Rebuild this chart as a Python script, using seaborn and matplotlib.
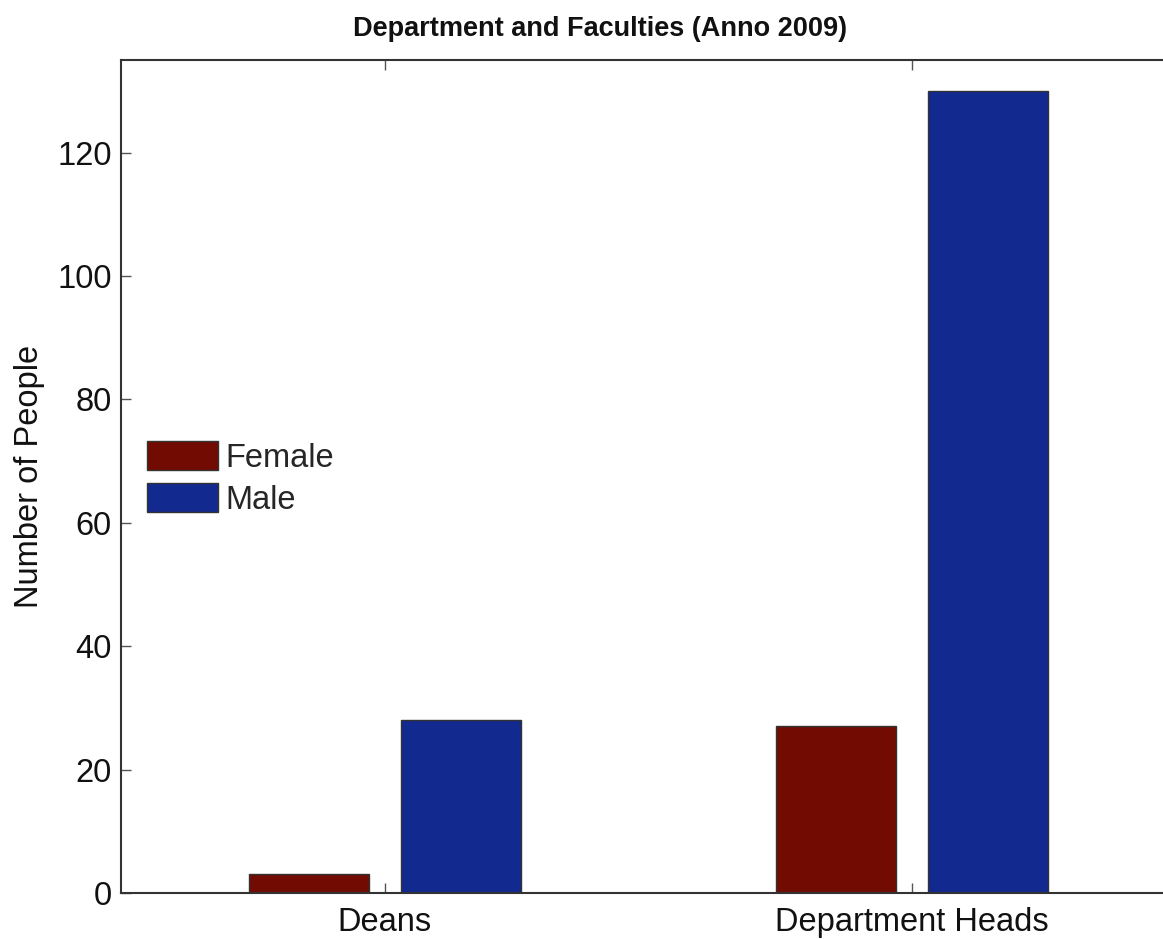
import matplotlib
matplotlib.use("Agg")
import matplotlib.pyplot as plt
import seaborn as sns
import pandas as pd

categories = ["Deans", "Department Heads"]
genders = ["Female", "Male"]
female_counts = [3, 27]
male_counts = [28, 130]
title = "Department and Faculties (Anno 2009)"
ylabel = "Number of People"
yticks = [0, 20, 40, 60, 80, 100, 120]

df = pd.DataFrame({
    "Category": categories * 2,
    "Gender": [genders[0]] * len(categories) + [genders[1]] * len(categories),
    "Count": female_counts + male_counts,
})

sns.set_theme(style="ticks")
plt.rcParams["font.family"] = ["Liberation Sans", "DejaVu Sans"]

FS = 23.5

fig = plt.figure(figsize=(11.63, 9.39), dpi=100)
ax = fig.add_axes([121 / 1163, 46 / 939, 1055 / 1163, 833 / 939])

palette = {"Female": "#720B01", "Male": "#12298F"}
sns.barplot(data=df, x="Category", y="Count", hue="Gender", hue_order=genders,
            order=categories, palette=palette, width=0.576, gap=0.21,
            edgecolor="#333333", linewidth=1.0, saturation=1, ax=ax)

ax.set_xlim(-0.5, 1.5)
ax.set_ylim(0, 135)
ax.set_yticks(yticks)
ax.set_xlabel("")
ax.set_ylabel(ylabel, fontsize=FS, color="#111111", labelpad=9)
ax.set_title(title, fontsize=19.5, fontweight="bold", pad=17, color="#111111",
             x=(600 - 121) / 1055)

for s in ax.spines.values():
    s.set_visible(True)
    s.set_linewidth(1.5)
    s.set_color("#333333")
ax.tick_params(axis="both", direction="in", length=7, width=1.0, color="#555555",
               labelsize=FS, labelcolor="#111111", top=True, right=True)
ax.tick_params(axis="x", pad=10)
ax.tick_params(axis="y", pad=6.5)

ax.legend(loc="upper left", bbox_to_anchor=(0.0246, 0.5426), frameon=False,
          fontsize=FS, handlelength=2.18, handleheight=1.0, handletextpad=0.22,
          labelspacing=0.28, borderpad=0, borderaxespad=0)

fig.savefig("out.png", dpi=100)
